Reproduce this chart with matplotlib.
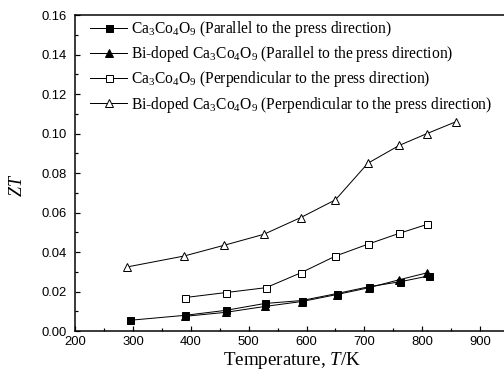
import matplotlib
matplotlib.use('Agg')
import matplotlib.pyplot as plt
from matplotlib.ticker import MultipleLocator

# Temperature (K) and ZT values
t_par = [295, 390, 460, 528, 592, 652, 708, 762, 812]
zt_par = [0.0055, 0.0080, 0.0105, 0.0140, 0.0155, 0.0190, 0.0225, 0.0250, 0.0280]

t_bi_par = [390, 460, 528, 592, 652, 708, 760, 808]
zt_bi_par = [0.0075, 0.0095, 0.0125, 0.0150, 0.0185, 0.0220, 0.0260, 0.0295]

t_perp = [390, 460, 530, 590, 650, 706, 760, 808]
zt_perp = [0.0170, 0.0195, 0.0220, 0.0295, 0.0380, 0.0440, 0.0495, 0.0540]

t_bi_perp = [290, 388, 458, 526, 590, 650, 706, 760, 808, 858]
zt_bi_perp = [0.0325, 0.0380, 0.0435, 0.0490, 0.0575, 0.0665, 0.0850, 0.0940, 0.1000, 0.1060]

labels = [r'Ca$_3$Co$_4$O$_9$ (Parallel to the press direction)',
          r'Bi-doped Ca$_3$Co$_4$O$_9$ (Parallel to the press direction)',
          r'Ca$_3$Co$_4$O$_9$ (Perpendicular to the press direction)',
          r'Bi-doped Ca$_3$Co$_4$O$_9$ (Perpendicular to the press direction)']

plt.rcParams['mathtext.fontset'] = 'custom'
plt.rcParams['mathtext.rm'] = 'Liberation Serif'
plt.rcParams['mathtext.it'] = 'Liberation Serif:italic'

fig = plt.figure(figsize=(7, 5.25), dpi=72)
ax = fig.add_axes([0.149, 0.124, 0.861, 0.836])

ax.plot(t_par, zt_par, color='k', lw=1, marker='s', ms=7, mfc='k', label=labels[0])
ax.plot(t_bi_par, zt_bi_par, color='k', lw=1, marker='^', ms=8, mfc='k', label=labels[1])
ax.plot(t_perp, zt_perp, color='k', lw=1, marker='s', ms=7, mfc='white', label=labels[2])
ax.plot(t_bi_perp, zt_bi_perp, color='k', lw=1, marker='^', ms=8, mfc='white', label=labels[3])

ax.set_xlim(200, 950)
ax.set_ylim(0, 0.16)
ax.xaxis.set_major_locator(MultipleLocator(100))
ax.xaxis.set_minor_locator(MultipleLocator(50))
ax.yaxis.set_major_locator(MultipleLocator(0.02))
ax.yaxis.set_minor_locator(MultipleLocator(0.01))
ax.yaxis.set_major_formatter(plt.FormatStrFormatter('%.2f'))
ax.tick_params(which='both', direction='in', width=1.2, labelsize=13)
ax.tick_params(which='major', length=5)
ax.tick_params(which='minor', length=3)
ax.tick_params(axis='y', pad=8)
ax.tick_params(axis='x', pad=5)
for lab in ax.get_xticklabels() + ax.get_yticklabels():
    lab.set_family('Liberation Sans')
for s in ax.spines.values():
    s.set_linewidth(1.5)

ax.set_xlabel(r'Temperature, $\it{T}$/K', family='Liberation Serif', fontsize=19, labelpad=2)
ax.set_ylabel(r'$\it{ZT}$', family='Liberation Serif', fontsize=18)
ax.yaxis.set_label_coords(-0.112, 0.46)

leg = ax.legend(loc='upper left', frameon=False, prop={'family': 'Liberation Serif', 'size': 15.5},
                handlelength=2.4, handletextpad=0.2, labelspacing=0.33, borderpad=0,
                borderaxespad=0, bbox_to_anchor=(0.035, 0.987))

fig.savefig('out.png', dpi=72)
